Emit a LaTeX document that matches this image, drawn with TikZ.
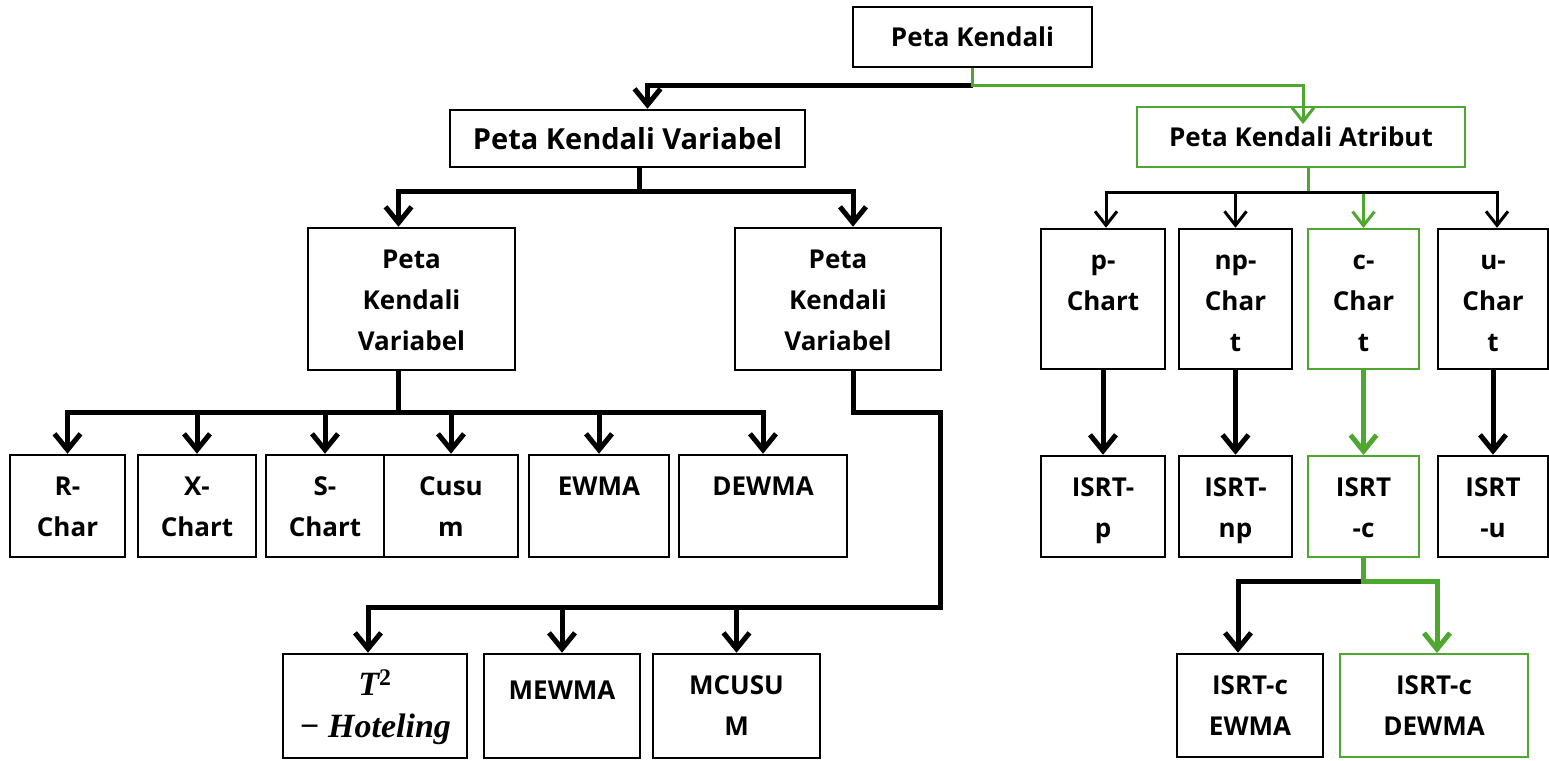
\documentclass[tikz,border=0pt]{standalone}
\usepackage{fontspec}
\setmainfont{Open Sans}
\newfontfamily\mathserif{Liberation Serif}
\usepackage{tikz}
\usetikzlibrary{arrows.meta}
\definecolor{gr}{RGB}{78,167,46}
\newcommand{\lines}[1]{\begin{tabular}[t]{@{}c@{}}#1\end{tabular}}

\begin{document}
\begin{tikzpicture}[x=1pt, y=-1pt,
        box/.style={rectangle, draw=black, line width=2.5pt, inner sep=0pt, font=\bfseries\fontsize{26}{41}\selectfont},
        gbox/.style={box, draw=gr, line width=2pt},
        link/.style={line width=5pt},
        arrow/.style={line width=5pt, -{Straight Barb[length=16pt,width=26pt]}},
        thinarrow/.style={line width=3pt, -{Straight Barb[length=14pt,width=22pt]}}
      ]
        \useasboundingbox (0,0) rectangle (1549,760);

        \node[box, minimum width=239pt, minimum height=60pt]  (pk)   at (972.5,37)  {Peta Kendali};
        \node[box, minimum width=355pt, minimum height=57pt, font=\bfseries\fontsize{29}{41}\selectfont] (pkv)  at (627.5,138.5) {Peta Kendali Variabel};
        \node[gbox, minimum width=328pt, minimum height=60pt] (pka)  at (1301,137)  {Peta Kendali Atribut};

        \node[box, minimum width=207pt, text height=40pt, text depth=102pt] (pkvl) at (411.5,299) {\lines{Peta\\Kendali\\Variabel}};
        \node[box, minimum width=206pt, text height=40pt, text depth=102pt] (pkvr) at (838,299)   {\lines{Peta\\Kendali\\Variabel}};

        % univariat
        \node[box, minimum width=115pt, text height=40pt, text depth=62pt] (rchar)  at (67.5,506) {\lines{R-\\Char}};
        \node[box, minimum width=118pt, text height=40pt, text depth=62pt] (xchart) at (197,506)  {\lines{X-\\Chart}};
        \node[box, minimum width=118pt, text height=40pt, text depth=62pt] (schart) at (325,506)  {\lines{S-\\Chart}};
        \node[box, minimum width=134pt, text height=40pt, text depth=62pt] (cusum)  at (451,506)  {\lines{Cusu\\m}};
        \node[box, minimum width=140pt, text height=40pt, text depth=62pt] (ewma)   at (599,506)  {EWMA};
        \node[box, minimum width=168pt, text height=40pt, text depth=62pt] (dewma)  at (763,506)  {DEWMA};

        % multivariat
        \node[box, minimum width=184pt, text height=41pt, text depth=63pt,
              font=\mathserif\bfseries\itshape\fontsize{34}{42}\selectfont] (hotel) at (375,706) {\lines{T\textsuperscript{\upshape 2}\\− Hoteling}};
        \node[box, minimum width=156pt, text height=45pt, text depth=59pt] (mewma)  at (562,706)   {MEWMA};
        \node[box, minimum width=167pt, text height=40pt, text depth=64pt] (mcusum) at (736.5,706) {\lines{MCUSU\\M}};

        % atribut
        \node[box,  minimum width=124pt, text height=40pt, text depth=100pt] (pchart)  at (1103,299)   {\lines{p-\\Chart}};
        \node[box,  minimum width=113pt, text height=40pt, text depth=100pt] (npchart) at (1235.5,299) {\lines{np-\\Char\\t}};
        \node[gbox, minimum width=111pt, text height=40pt, text depth=100pt] (cchart)  at (1363.5,299) {\lines{c-\\Char\\t}};
        \node[box,  minimum width=110pt, text height=40pt, text depth=100pt] (uchart)  at (1493,299)   {\lines{u-\\Char\\t}};

        \node[box,  minimum width=124pt, text height=40pt, text depth=61pt] (isrtp)  at (1103,506.5)   {\lines{ISRT-\\p}};
        \node[box,  minimum width=113pt, text height=40pt, text depth=61pt] (isrtnp) at (1235.5,506.5) {\lines{ISRT-\\np}};
        \node[gbox, minimum width=111pt, text height=40pt, text depth=61pt] (isrtc)  at (1363.5,506.5) {\lines{ISRT\\-c}};
        \node[box,  minimum width=110pt, text height=40pt, text depth=61pt] (isrtu)  at (1493,506.5)   {\lines{ISRT\\-u}};

        \node[box,  minimum width=146pt, text height=40pt, text depth=63pt] (isrtce) at (1250,705.5) {\lines{ISRT-c\\EWMA}};
        \node[gbox, minimum width=188pt, text height=40pt, text depth=63pt] (isrtcd) at (1434,705.5) {\lines{ISRT-c\\DEWMA}};

        % root
        \coordinate (rootj) at ([yshift=-17pt]pk.south);
        \draw[arrow] (rootj) -| ([xshift=20pt]pkv.north);
        \draw[thinarrow, gr] (pk.south) -- (rootj) -| ([xshift=2pt,yshift=-18pt]pka.north);

        % variabel
        \coordinate (varj) at ([xshift=12pt,yshift=-23pt]pkv.south);
        \draw[link] ([xshift=12pt]pkv.south) -- (varj);
        \draw[arrow] (varj) -| ([xshift=-13pt]pkvl.north);
        \draw[arrow] (varj) -| ([xshift=15pt]pkvr.north);

        \coordinate (unij) at ([xshift=-13pt,yshift=-41pt]pkvl.south);
        \draw[link] ([xshift=-13pt]pkvl.south) -- (unij);
        \draw[arrow] (unij) -| (rchar.north);
        \draw[arrow] (unij) -| (xchart.north);
        \draw[arrow] (unij) -| (schart.north);
        \draw[arrow] (unij) -| (cusum.north);
        \draw[arrow] (unij) -| (ewma.north);
        \draw[arrow] (unij) -| (dewma.north);

        \coordinate (mbend) at ([xshift=15pt,yshift=-41pt]pkvr.south);
        \coordinate (multij) at ([xshift=102pt,yshift=-236pt]pkvr.south);
        \draw[arrow] ([xshift=15pt]pkvr.south) -- (mbend) -| (multij) -| ([xshift=-7pt]hotel.north);
        \draw[arrow] (multij) -| (mewma.north);
        \draw[arrow] (multij) -| (mcusum.north);

        % atribut
        \coordinate (atrj) at ([xshift=7pt,yshift=-24pt]pka.south);
        \draw[thinarrow, gr] (cchart.north |- atrj) -- (cchart.north);
        \draw[line width=3pt, gr] ([xshift=7pt]pka.south) -- (atrj);
        \draw[thinarrow] (atrj) -| ([xshift=3pt]pchart.north);
        \draw[thinarrow] (atrj) -| (npchart.north);
        \draw[thinarrow] (atrj) -| ([xshift=4pt]uchart.north);

        \draw[arrow]     (pchart)  -- (isrtp);
        \draw[arrow]     (npchart) -- (isrtnp);
        \draw[arrow, gr] (cchart)  -- (isrtc);
        \draw[arrow]     (uchart)  -- (isrtu);

        \coordinate (cj) at ([yshift=-23pt]isrtc.south);
        \draw[arrow] (cj) -| ([xshift=-12pt]isrtce.north);
        \draw[arrow, gr] (isrtc.south) -- (cj) -| ([xshift=3pt]isrtcd.north);
      \end{tikzpicture}
\end{document}
